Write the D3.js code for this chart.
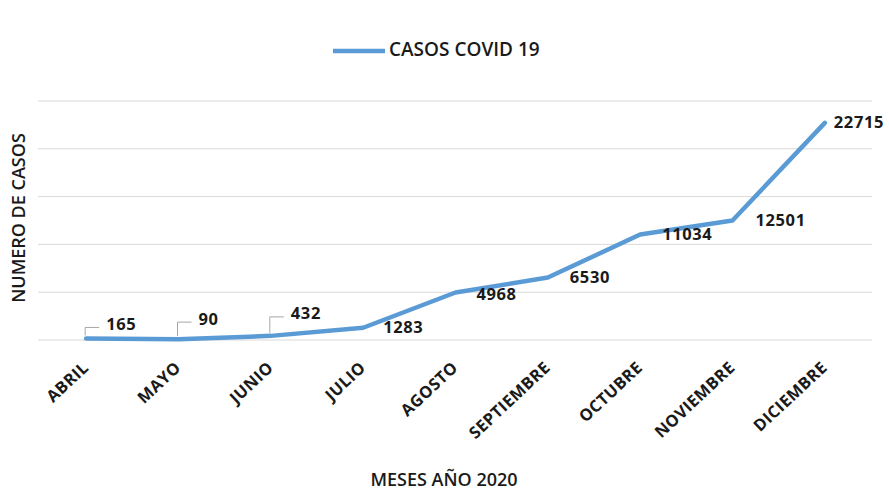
<!DOCTYPE html>
<html>
<head>
<meta charset="utf-8">
<script src="https://cdn.jsdelivr.net/npm/d3@7"></script>
<style>
  html, body { margin: 0; padding: 0; background: #fff; }
  svg { display: block; font-family: "Open Sans", "Liberation Sans", sans-serif; }
</style>
</head>
<body>
<svg id="chart" width="889" height="492"></svg>
<script>
// Monthly COVID-19 cases, 2020
const months = ["ABRIL", "MAYO", "JUNIO", "JULIO", "AGOSTO", "SEPTIEMBRE", "OCTUBRE", "NOVIEMBRE", "DICIEMBRE"];
const cases = [165, 90, 432, 1283, 4968, 6530, 11034, 12501, 22715];
const seriesName = "CASOS COVID 19";
const gridTicks = [0, 5000, 10000, 15000, 20000, 25000];

// label placement: [dx, dy, leader line?]
const labelPlacement = [
  [20, -13, true], [20, -19, true], [20, -21, true],
  [20, 1, false], [21, 3, false], [22, 1, false],
  [22, 1, false], [23, 1, false], [9, 1, false]
];

const svg = d3.select("#chart");
const margin = { left: 40, right: 18, top: 101, bottom: 152 };
const W = 889, H = 492;
const color = "#5B9BD5";

const x = d3.scalePoint().domain(months).range([margin.left, W - margin.right]).padding(0.5);
const y = d3.scaleLinear().domain([0, 25000]).range([H - margin.bottom, margin.top]);

// horizontal gridlines
svg.append("g").selectAll("line").data(gridTicks).join("line")
  .attr("x1", margin.left - 2).attr("x2", W - margin.right + 1)
  .attr("y1", d => y(d)).attr("y2", d => y(d))
  .attr("stroke", "#d9d9d9").attr("stroke-width", 1);

// category axis labels
const xAxis = d3.axisBottom(x).tickSize(0).tickPadding(0);
const gx = svg.append("g").attr("transform", `translate(0,${y(0)})`).call(xAxis);
gx.select(".domain").remove();
gx.selectAll("text")
  .attr("font-family", "'Open Sans', sans-serif")
  .attr("font-size", 16.5).attr("font-weight", 700).attr("fill", "#1a1a1a")
  .attr("letter-spacing", 0.4)
  .attr("text-anchor", "end")
  .attr("dy", null).attr("y", 0)
  .attr("transform", "translate(3,29) rotate(-43)");

// series line
const line = d3.line().x((d, i) => x(months[i])).y(d => y(d));
svg.append("path").datum(cases)
  .attr("d", line).attr("fill", "none")
  .attr("stroke", color).attr("stroke-width", 4.5)
  .attr("stroke-linejoin", "round").attr("stroke-linecap", "round");

// data labels
const lbl = svg.append("g");
cases.forEach((v, i) => {
  const px = x(months[i]), py = y(v);
  const [dx, dy, leader] = labelPlacement[i];
  if (leader) {
    lbl.append("path")
      .attr("d", `M${px - 1},${py - 3} V${py + dy + 2} H${px + dx - 7}`)
      .attr("fill", "none").attr("stroke", "#a6a6a6").attr("stroke-width", 1);
  }
  lbl.append("text")
    .attr("x", px + dx).attr("y", py + dy)
    .attr("dominant-baseline", "middle")
    .attr("font-size", 16.5).attr("font-weight", 700).attr("fill", "#1a1a1a")
    .attr("letter-spacing", 0.6)
    .text(d3.format("d")(v));
});

// legend
const lg = svg.append("g");
lg.append("line").attr("x1", 333).attr("x2", 385).attr("y1", 51).attr("y2", 51)
  .attr("stroke", color).attr("stroke-width", 4.5);
lg.append("text").attr("x", 389).attr("y", 51).attr("dominant-baseline", "middle")
  .attr("font-size", 19).attr("font-weight", 600).attr("fill", "#1a1a1a")
  .text(seriesName);

// axis titles
svg.append("text").attr("x", 444).attr("y", 481).attr("text-anchor", "middle")
  .attr("dominant-baseline", "middle")
  .attr("font-size", 18).attr("font-weight", 600).attr("fill", "#1a1a1a").text("MESES AÑO 2020");
svg.append("text").attr("transform", "translate(20,218) rotate(-90)")
  .attr("text-anchor", "middle").attr("dominant-baseline", "middle")
  .attr("font-size", 18).attr("font-weight", 600).attr("fill", "#1a1a1a").text("NUMERO DE CASOS");
</script>
</body>
</html>
